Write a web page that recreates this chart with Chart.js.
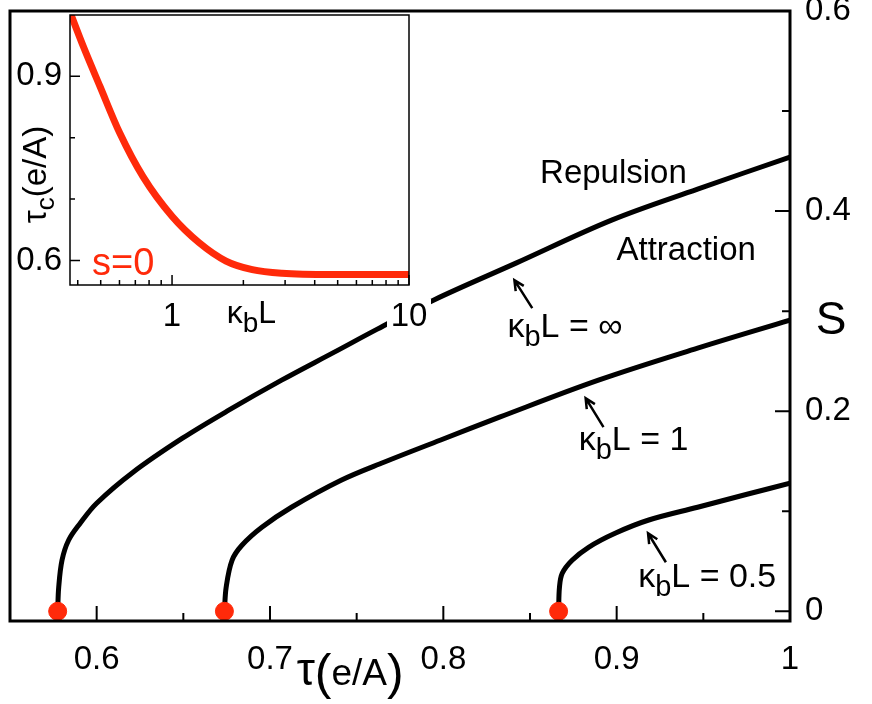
<!DOCTYPE html>
<html lang="en">
<head>
<meta charset="UTF-8" />
<title>S against tau</title>
<script src="https://cdn.jsdelivr.net/npm/chart.js"></script>
<style>
  body { margin: 0; background: #fff; }
  .wrap { position: relative; width: 872px; height: 704px; }
  #main { position: absolute; left: 0; top: 0; }
  #inset { position: absolute; left: 10px; top: 12px; }
</style>
</head>
<body>
<div class="wrap">
  <canvas id="main" width="872" height="704"></canvas>
  <canvas id="inset" width="425" height="330"></canvas>
</div>
<script>
  // main panel: s vs tau (e/A), one curve per kappa_b L
  const tauInf = [0.5775, 0.5781, 0.5800, 0.5838, 0.5905, 0.6000, 0.6210, 0.6495, 0.6762, 0.7067, 0.7371, 0.7619, 0.7943, 0.8419, 0.8971, 0.9467, 1.0];
  const sInf   = [0,      0.024,  0.051,  0.071,  0.088,  0.108,  0.139,  0.173,  0.201,  0.231,  0.259,  0.282,  0.311,  0.348,  0.391,  0.422,  0.454];
  const tauOne = [0.6737, 0.6747, 0.6781, 0.6838, 0.6953, 0.7124, 0.7410, 0.7657, 0.7981, 0.8324, 0.8895, 0.9467, 1.0];
  const sOne   = [0,      0.024,  0.051,  0.066,  0.084,  0.104,  0.131,  0.149,  0.171,  0.194,  0.231,  0.263,  0.291];
  const tauHalf = [0.8665, 0.8670, 0.8686, 0.8743, 0.8838, 0.8991, 0.9181, 0.9467, 0.9752, 1.0];
  const sHalf   = [0,      0.024,  0.038,  0.051,  0.064,  0.078,  0.091,  0.104,  0.117,  0.128];
  const tauStart = [0.5775, 0.6737, 0.8665];
  const sStart   = [0, 0, 0];

  const xTicks = [0.6, 0.7, 0.8, 0.9, 1];
  const xMinor = [0.65, 0.75, 0.85, 0.95];
  const yTicks = [0, 0.2, 0.4, 0.6];
  const yMinor = [0.1, 0.3, 0.5];

  // inset: tau_c vs kappa_b L at s=0
  const kbL  = [0.375, 0.422, 0.496, 0.601, 0.753, 1.0,   1.30,  1.69,  2.18,  2.91,  4.72,  10];
  const tauC = [1.0,   0.949, 0.884, 0.808, 0.737, 0.672, 0.629, 0.599, 0.585, 0.579, 0.577, 0.577];

  const insetXTicks = [1, 10];
  const insetXMinor = [0.4, 0.5, 0.6, 0.7, 0.8, 0.9, 2, 3, 4, 5, 6, 7, 8, 9];
  const insetYTicks = [0.6, 0.9];
  const insetYMinor = [0.7, 0.8];

  const FAMILY = "'Liberation Sans', Arial, sans-serif";
  const RED = '#ff2a0a';
  Chart.defaults.font.family = FAMILY;
  Chart.defaults.color = '#000';

  const pts = (xs, ys) => xs.map((x, i) => ({ x: x, y: ys[i] }));

  function setTicks(major, minor) {
    return scale => {
      scale.ticks = major.map(v => ({ value: v, major: true }))
        .concat(minor.map(v => ({ value: v, major: false })))
        .sort((a, b) => a.value - b.value);
    };
  }

  // fixed axis size, no extra room for overhanging labels
  function fixSize(dim, size) {
    return s => {
      s[dim] = size;
      s.paddingTop = s.paddingBottom = s.paddingLeft = s.paddingRight = 0;
    };
  }

  function runs(ctx, x, y, parts) {
    parts.forEach(p => {
      ctx.font = p[1] + 'px ' + FAMILY;
      ctx.fillText(p[0], x, y + (p[2] || 0));
      x += ctx.measureText(p[0]).width;
    });
    return x;
  }

  function arrow(ctx, x0, y0, x1, y1) {
    const ang = Math.atan2(y1 - y0, x1 - x0);
    ctx.beginPath();
    ctx.moveTo(x0, y0);
    ctx.lineTo(x1, y1);
    ctx.moveTo(x1 - 11 * Math.cos(ang - 0.45), y1 - 11 * Math.sin(ang - 0.45));
    ctx.lineTo(x1, y1);
    ctx.lineTo(x1 - 11 * Math.cos(ang + 0.45), y1 - 11 * Math.sin(ang + 0.45));
    ctx.stroke();
  }

  // frame, inward tick marks, labels
  const mainDeco = {
    id: 'mainDeco',
    afterDatasetsDraw(chart) {
      const { ctx, chartArea: a, scales: { x, y } } = chart;
      ctx.save();
      ctx.strokeStyle = '#000';
      ctx.lineWidth = 3;
      ctx.strokeRect(a.left, a.top, a.right - a.left, a.bottom - a.top);
      ctx.lineWidth = 2;
      ctx.beginPath();
      x.ticks.forEach(t => {
        const p = x.getPixelForValue(t.value);
        ctx.moveTo(p, a.bottom);
        ctx.lineTo(p, a.bottom - (t.major ? 15 : 8));
      });
      y.ticks.forEach(t => {
        const p = y.getPixelForValue(t.value);
        ctx.moveTo(a.right, p);
        ctx.lineTo(a.right - (t.major ? 15 : 8), p);
      });
      ctx.stroke();

      ctx.fillStyle = '#000';
      ctx.textBaseline = 'alphabetic';
      ctx.textAlign = 'left';
      const X = v => x.getPixelForValue(v), Y = v => y.getPixelForValue(v);
      runs(ctx, X(0.8558), Y(0.428), [['Repulsion', 33]]);
      runs(ctx, X(0.8999), Y(0.351), [['Attraction', 33]]);
      runs(ctx, X(0.8370), Y(0.274), [['κ', 34], ['b', 29, 9], ['L = ∞', 34]]);
      runs(ctx, X(0.8781), Y(0.161), [['κ', 34], ['b', 29, 9], ['L = 1', 34]]);
      runs(ctx, X(0.9124), Y(0.024), [['κ', 34], ['b', 29, 9], ['L = 0.5', 34]]);
      ctx.lineWidth = 2.5;
      arrow(ctx, X(0.8513), Y(0.303), X(0.8410), Y(0.331));
      arrow(ctx, X(0.8924), Y(0.184), X(0.8821), Y(0.213));
      arrow(ctx, X(0.9284), Y(0.049), X(0.9181), Y(0.078));

      // axis titles
      let tx = X(0.75) - 60;
      tx = runs(ctx, tx, a.bottom + 64, [['τ', 46]]);
      tx = runs(ctx, tx, a.bottom + 68, [['(', 50]]);
      tx = runs(ctx, tx, a.bottom + 64, [['e/A', 37]]);
      runs(ctx, tx, a.bottom + 68, [[')', 50]]);
      ctx.textAlign = 'center';
      ctx.textBaseline = 'middle';
      ctx.font = '46px ' + FAMILY;
      ctx.fillText('S', a.right + 41, Y(0.29));
      ctx.restore();
    }
  };

  const curve = (xs, ys) => ({
    data: pts(xs, ys), borderColor: '#000', borderWidth: 5, pointRadius: 0, showLine: true, tension: 0.35
  });

  new Chart(document.getElementById('main'), {
    type: 'scatter',
    data: {
      datasets: [
        { data: pts(tauStart, sStart), backgroundColor: RED, borderColor: RED, pointRadius: 9, pointHoverRadius: 9, showLine: false, clip: false },
        curve(tauInf, sInf),
        curve(tauOne, sOne),
        curve(tauHalf, sHalf)
      ]
    },
    options: {
      responsive: false,
      animation: false,
      events: [],
      layout: { padding: { left: 6, top: 11, right: 0, bottom: 0 } },
      plugins: { legend: { display: false }, tooltip: { enabled: false } },
      scales: {
        x: {
          type: 'linear', min: 0.55, max: 1.0,
          grid: { display: false, drawTicks: false },
          border: { display: false },
          afterBuildTicks: setTicks(xTicks, xMinor),
          afterFit: fixSize('height', 83),
          ticks: {
            autoSkip: false, maxRotation: 0, padding: 19,
            font: { size: 33 },
            callback: v => xTicks.includes(v) ? String(v) : ''
          }
        },
        y: {
          type: 'linear', position: 'right', min: -0.0097, max: 0.6,
          grid: { display: false, drawTicks: false },
          border: { display: false },
          afterBuildTicks: setTicks(yTicks, yMinor),
          afterFit: fixSize('width', 82),
          ticks: {
            autoSkip: false, padding: 15,
            font: { size: 33 },
            callback: v => yTicks.includes(v) ? String(v) : ''
          }
        }
      }
    },
    plugins: [mainDeco]
  });

  const insetDeco = {
    id: 'insetDeco',
    beforeDraw(chart) {
      // white patch behind the "10" label so the main curve passes under it
      const { ctx, chartArea: a, scales: { x } } = chart;
      const p = x.getPixelForValue(10);
      ctx.save();
      ctx.fillStyle = '#fff';
      ctx.fillRect(p - 22, a.bottom + 14, 44, 30);
      ctx.fillRect(a.left, a.top, a.right - a.left, a.bottom - a.top);
      ctx.restore();
    },
    afterDatasetsDraw(chart) {
      const { ctx, chartArea: a, scales: { x, y } } = chart;
      ctx.save();
      ctx.strokeStyle = '#000';
      ctx.lineWidth = 1.5;
      ctx.strokeRect(a.left, a.top, a.right - a.left, a.bottom - a.top);
      ctx.beginPath();
      x.ticks.forEach(t => {
        const p = x.getPixelForValue(t.value);
        ctx.moveTo(p, a.bottom);
        ctx.lineTo(p, a.bottom - (t.major ? 10 : 5));
      });
      y.ticks.forEach(t => {
        const p = y.getPixelForValue(t.value);
        ctx.moveTo(a.left, p);
        ctx.lineTo(a.left + (t.major ? 10 : 5), p);
      });
      ctx.stroke();

      ctx.fillStyle = RED;
      ctx.textAlign = 'left';
      ctx.textBaseline = 'alphabetic';
      runs(ctx, a.left + 22, a.bottom - 10, [['s=0', 38]]);

      ctx.fillStyle = '#000';
      runs(ctx, x.getPixelForValue(1.7), a.bottom + 38, [['κ', 32], ['b', 28, 9], ['L', 32]]);

      // rotated y title
      ctx.translate(a.left - 24, y.getPixelForValue(0.74));
      ctx.rotate(-Math.PI / 2);
      let w = 0;
      ctx.font = '33px ' + FAMILY; w += ctx.measureText('τ(e/A)').width;
      ctx.font = '26px ' + FAMILY; w += ctx.measureText('c').width;
      runs(ctx, -w / 2, 0, [['τ', 33], ['c', 26, 8], ['(e/A)', 33]]);
      ctx.restore();
    }
  };

  new Chart(document.getElementById('inset'), {
    type: 'scatter',
    data: {
      datasets: [
        { data: pts(kbL, tauC), borderColor: RED, borderWidth: 7, pointRadius: 0, showLine: true, cubicInterpolationMode: 'monotone' }
      ]
    },
    options: {
      responsive: false,
      animation: false,
      events: [],
      layout: { padding: { left: 0, top: 3, right: 26, bottom: 0 } },
      plugins: { legend: { display: false }, tooltip: { enabled: false } },
      scales: {
        x: {
          type: 'logarithmic', min: 0.371, max: 10,
          grid: { display: false, drawTicks: false },
          border: { display: false },
          afterBuildTicks: setTicks(insetXTicks, insetXMinor),
          afterFit: fixSize('height', 57),
          ticks: {
            autoSkip: false, maxRotation: 0, padding: 12,
            font: { size: 33 },
            callback: v => insetXTicks.includes(v) ? String(v) : ''
          }
        },
        y: {
          type: 'linear', min: 0.56, max: 1.0,
          grid: { display: false, drawTicks: false },
          border: { display: false },
          afterBuildTicks: setTicks(insetYTicks, insetYMinor),
          afterFit: fixSize('width', 60),
          ticks: {
            autoSkip: false, padding: 8,
            font: { size: 33 },
            callback: v => insetYTicks.includes(v) ? String(v) : ''
          }
        }
      }
    },
    plugins: [insetDeco]
  });
</script>
</body>
</html>
